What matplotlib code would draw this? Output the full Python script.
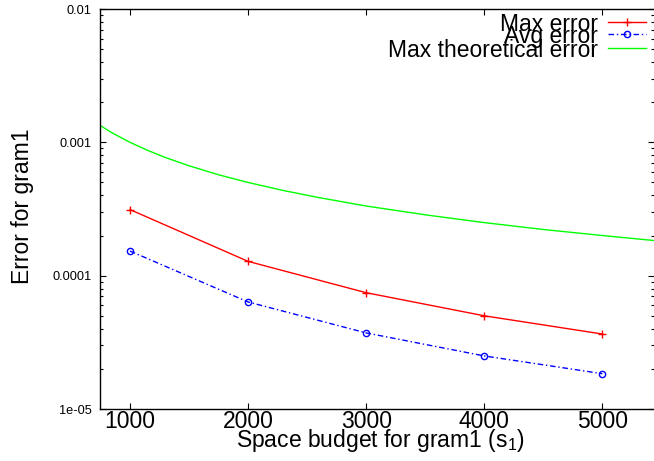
import matplotlib
matplotlib.use("Agg")
import matplotlib.pyplot as plt
from matplotlib.lines import Line2D
from matplotlib.ticker import LogLocator, NullFormatter, FixedLocator, FixedFormatter

plt.rcParams['font.family'] = ['Liberation Sans', 'DejaVu Sans']
plt.rcParams['mathtext.fontset'] = 'custom'
plt.rcParams['mathtext.rm'] = 'Liberation Sans'
plt.rcParams['mathtext.it'] = 'Liberation Sans:italic'

# ---- data ----
space = [1000, 2000, 3000, 4000, 5000]
max_error = [3.13e-4, 1.28e-4, 7.45e-5, 5.0e-5, 3.65e-5]
avg_error = [1.53e-4, 6.35e-5, 3.72e-5, 2.5e-5, 1.84e-5]
theory_x = [750, 850, 1000, 1150, 1300, 1500, 1750, 2000, 2300, 2600, 3000,
            3500, 4000, 4500, 5000, 5450]
theory_err = [1.333e-3, 1.176e-3, 1.0e-3, 8.70e-4, 7.69e-4, 6.67e-4, 5.71e-4,
              5.0e-4, 4.35e-4, 3.85e-4, 3.33e-4, 2.86e-4, 2.5e-4, 2.22e-4,
              2.0e-4, 1.83e-4]
xticks = [1000, 2000, 3000, 4000, 5000]
xtick_labels = ['1000', '2000', '3000', '4000', '5000']
yticks = [1e-5, 1e-4, 1e-3, 1e-2]
ytick_labels = ['1e-05', '0.0001', '0.001', '0.01']

W, H = 654, 461
fig = plt.figure(figsize=(W / 100, H / 100), dpi=100)
ax_l, ax_r, ax_t, ax_b = 100, 654, 9, 409
ax = fig.add_axes([ax_l / W, 1 - ax_b / H, (ax_r - ax_l) / W, (ax_b - ax_t) / H])

red = '#ff0000'
blue = '#0000ff'
green = '#00ff00'

ax.plot(space, max_error, color=red, lw=1.0, marker='+', ms=5.5, mew=1.0)
ax.plot(space, avg_error, color=blue, lw=1.0, marker='o', ms=4.5, mew=1.0,
        mfc='none', dashes=(4, 2, 1, 2))
ax.plot(theory_x, theory_err, color=green, lw=1.0)

ax.set_yscale('log')
ax.set_ylim(1e-5, 1e-2)
ax.set_xlim(746, 5437)

ax.xaxis.set_major_locator(FixedLocator(xticks))
ax.xaxis.set_major_formatter(FixedFormatter(xtick_labels))
ax.xaxis.set_minor_locator(FixedLocator([]))
ax.yaxis.set_major_locator(FixedLocator(yticks))
ax.yaxis.set_major_formatter(FixedFormatter(ytick_labels))
ax.yaxis.set_minor_locator(LogLocator(base=10, subs=range(2, 10)))
ax.yaxis.set_minor_formatter(NullFormatter())

ax.tick_params(axis='both', which='both', direction='in', top=True, right=True,
               width=0.8, color='black')
ax.tick_params(axis='both', which='major', length=4.5)
ax.tick_params(axis='both', which='minor', length=2.3)
ax.tick_params(axis='x', which='major', labelsize=16.5, pad=0.5)
ax.tick_params(axis='y', which='major', labelsize=9.2, pad=6)

ax.spines['right'].set_visible(False)
for s in ['left', 'bottom', 'top']:
    ax.spines[s].set_linewidth(1.0)

ax.set_xlabel('Space budget for gram1 (s$_1$)', fontsize=16.5, va='baseline')
ax.xaxis.set_label_coords((380 - ax_l) / (ax_r - ax_l), -(447 - ax_b) / (ax_b - ax_t))
ax.set_ylabel('Error for gram1', fontsize=16.5, va='center')
ax.yaxis.set_label_coords((23 - ax_l) / (ax_r - ax_l), (ax_b - 206) / (ax_b - ax_t))

# ---- legend (gnuplot-style, right aligned text + sample) ----
labels = ['Max error', 'Avg error', 'Max theoretical error']
styles = [dict(color=red, lw=1.0, marker='+', ms=5.5, mew=1.0, markevery=[1]),
          dict(color=blue, lw=1.0, marker='o', ms=4.5, mew=1.0, mfc='none',
               dashes=(4, 2, 1, 2), markevery=[1]),
          dict(color=green, lw=1.0)]
rows = [21.7, 34.2, 47.7]
for lab, st, yc in zip(labels, styles, rows):
    fig.text(598 / W, 1 - (yc + 9.0) / H, lab, fontsize=16.5, ha='right',
             va='baseline')
    xs = [608 / W, 627 / W, 646 / W]
    fig.add_artist(Line2D(xs, [1 - yc / H] * 3, transform=fig.transFigure, **st))

fig.savefig('out.png', dpi=100)
